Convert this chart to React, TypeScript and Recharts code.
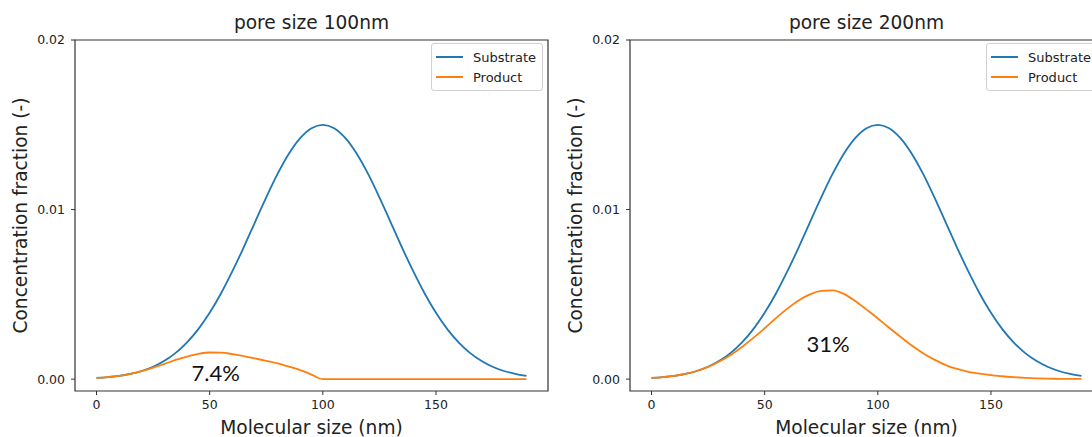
import { Legend, Line, LineChart, ReferenceArea, ReferenceDot, XAxis, YAxis } from 'recharts';

const X_VALUES = [
  0, 5, 10, 15, 20, 25, 30, 35, 40, 45, 50, 55, 60, 65, 70, 75, 80, 85, 90, 95,
  100, 105, 110, 115, 120, 125, 130, 135, 140, 145, 150, 155, 160, 165, 170, 175, 180, 185, 190,
];

const SUBSTRATE = [
  0.00007, 0.00012, 0.00019, 0.00031, 0.00048, 0.00073, 0.00108, 0.00155, 0.00217, 0.00295,
  0.00391, 0.00505, 0.00635, 0.00776, 0.00925, 0.01072, 0.0121, 0.01329, 0.01421, 0.0148,
  0.015, 0.0148, 0.01421, 0.01329, 0.0121, 0.01072, 0.00925, 0.00776, 0.00635, 0.00505,
  0.00391, 0.00295, 0.00217, 0.00155, 0.00108, 0.00073, 0.00048, 0.00031, 0.00019,
];

const PRODUCT_100 = [
  0.00007, 0.00012, 0.00019, 0.00031, 0.00047, 0.00068, 0.0009, 0.00113, 0.00133, 0.00149,
  0.00157, 0.00156, 0.00148, 0.00136, 0.00122, 0.00108, 0.00093, 0.00074, 0.00053, 0.00027,
  0, 0, 0, 0, 0, 0, 0, 0, 0, 0,
  0, 0, 0, 0, 0, 0, 0, 0, 0,
];

const PRODUCT_200 = [
  0.00007, 0.00012, 0.00019, 0.00031, 0.00048, 0.00072, 0.00104, 0.00143, 0.0019, 0.00243,
  0.003, 0.0036, 0.00416, 0.00464, 0.005, 0.0052, 0.00524, 0.00503, 0.00461, 0.0041,
  0.00358, 0.00303, 0.0025, 0.00198, 0.00153, 0.00115, 0.00083, 0.0006, 0.00043, 0.00032,
  0.00024, 0.00017, 0.00012, 0.00008, 0.00005, 0.00003, 0.00002, 0.00001, 0.00001,
];

const X_TICKS = [0, 50, 100, 150];
const Y_TICKS = [0, 0.01, 0.02];
const X_DOMAIN = [-9.5, 199.5];
const Y_DOMAIN = [-0.0007, 0.02];
const LEGEND_ORDER = ['Substrate', 'Product'];

const FONT = '"DejaVu Sans", sans-serif';
const BLUE = '#1f77b4';
const ORANGE = '#ff7f0e';

const panels = [
  { title: 'pore size 100nm', product: PRODUCT_100, note: '7.4%', noteX: 42, noteY: -0.0001, left: 0 },
  { title: 'pore size 200nm', product: PRODUCT_200, note: '31%', noteX: 68.5, noteY: 0.0016, left: 555 },
];

const CHART_W = 560;
const CHART_H = 437;
const Y_AXIS_W = 75;
const MARGIN = { top: 40, right: 12, bottom: 0, left: 0 };
const X_AXIS_H = 46;

function LegendBox({ payload }: any) {
  const items = [...(payload || [])].sort(
    (a: any, b: any) => LEGEND_ORDER.indexOf(a.value) - LEGEND_ORDER.indexOf(b.value),
  );
  return (
    <div
      style={{
        border: '1px solid #d0d0d0',
        borderRadius: 3,
        background: 'rgba(255,255,255,0.85)',
        padding: '3px 6px 3px 4px',
        fontFamily: FONT,
        fontSize: 13,
        color: '#222',
        width: 100,
      }}
    >
      {items.map((p: any) => (
        <div key={p.value} style={{ display: 'flex', alignItems: 'center', height: 20, whiteSpace: 'nowrap' }}>
          <span style={{ display: 'inline-block', flex: 'none', width: 27, height: 2, background: p.color, marginRight: 10 }} />
          <span>{p.value}</span>
        </div>
      ))}
    </div>
  );
}

function Panel({ panel }: { panel: (typeof panels)[number] }) {
  const data = X_VALUES.map((x, i) => ({ x, substrate: SUBSTRATE[i], product: panel.product[i] }));
  const plotLeft = Y_AXIS_W;
  const plotRight = CHART_W - MARGIN.right;
  return (
    <div style={{ position: 'absolute', left: panel.left, top: 0, width: CHART_W, height: CHART_H }}>
      <div
        style={{
          position: 'absolute',
          left: plotLeft,
          width: plotRight - plotLeft,
          top: 12,
          textAlign: 'center',
          fontFamily: FONT,
          fontSize: 18.6,
          color: '#222',
          lineHeight: '22px',
        }}
      >
        {panel.title}
      </div>
      <LineChart width={CHART_W} height={CHART_H} data={data} margin={MARGIN}>
        <XAxis
          dataKey="x"
          type="number"
          domain={X_DOMAIN}
          ticks={X_TICKS}
          allowDataOverflow
          height={X_AXIS_H}
          axisLine={false}
          tickLine={{ stroke: '#333' }}
          tickSize={4}
          tickMargin={5}
          tick={{ fill: '#222', fontSize: 12.5, fontFamily: FONT }}
          label={{
            content: ({ viewBox }: any) => (
              <text
                x={viewBox.x + viewBox.width / 2}
                y={viewBox.y + 43}
                textAnchor="middle"
                fill="#222"
                fontSize={18.6}
                fontFamily={FONT}
              >
                Molecular size (nm)
              </text>
            ),
          }}
        />
        <YAxis
          type="number"
          domain={Y_DOMAIN}
          ticks={Y_TICKS}
          allowDataOverflow
          width={Y_AXIS_W}
          axisLine={false}
          tickLine={{ stroke: '#333' }}
          tickSize={4}
          tickMargin={6}
          tickFormatter={(v: number) => v.toFixed(2)}
          tick={{ fill: '#222', fontSize: 12.5, fontFamily: FONT }}
          label={{
            content: ({ viewBox }: any) => {
              const cx = viewBox.x + 20;
              const cy = viewBox.y + viewBox.height / 2;
              return (
                <text
                  x={cx}
                  y={cy}
                  transform={`rotate(-90 ${cx} ${cy})`}
                  textAnchor="middle"
                  dominantBaseline="central"
                  fill="#222"
                  fontSize={18.6}
                  fontFamily={FONT}
                >
                  Concentration fraction (-)
                </text>
              );
            },
          }}
        />
        <ReferenceArea
          x1={X_DOMAIN[0]}
          x2={X_DOMAIN[1]}
          y1={Y_DOMAIN[0]}
          y2={Y_DOMAIN[1]}
          fill="none"
          stroke="#333"
          strokeWidth={1.2}
          ifOverflow="visible"
        />
        <Line
          type="monotone"
          dataKey="substrate"
          name="Substrate"
          stroke={BLUE}
          strokeWidth={1.8}
          dot={false}
          isAnimationActive={false}
        />
        <Line
          type="monotone"
          dataKey="product"
          name="Product"
          stroke={ORANGE}
          strokeWidth={1.8}
          dot={false}
          isAnimationActive={false}
        />
        <ReferenceDot
          x={panel.noteX}
          y={panel.noteY}
          ifOverflow="visible"
          shape={(p: any) => (
            <text x={p.cx} y={p.cy} fill="#111" fontSize={22} fontFamily="Lato, 'Open Sans', sans-serif">
              {panel.note}
            </text>
          )}
        />
        <Legend
          layout="vertical"
          align="center"
          verticalAlign="middle"
          content={<LegendBox />}
          wrapperStyle={{ position: 'absolute', left: plotRight - 117, top: 43, width: 112, height: 'auto' }}
        />
      </LineChart>
    </div>
  );
}

export default function App() {
  return (
    <div
      style={{
        position: 'fixed',
        left: 0,
        top: 0,
        width: 1092,
        height: 437,
        overflow: 'hidden',
        background: '#fff',
      }}
    >
      {panels.map((p) => (
        <Panel key={p.title} panel={p} />
      ))}
    </div>
  );
}
